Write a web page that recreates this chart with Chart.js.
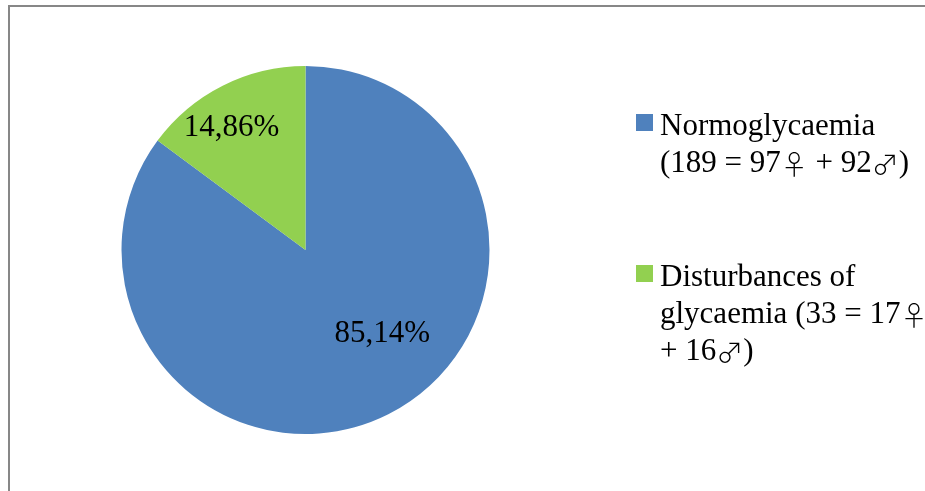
<!DOCTYPE html>
<html>
<head>
<meta charset="utf-8">
<title>Glycaemia</title>
<script src="https://cdn.jsdelivr.net/npm/chart.js@4"></script>
<style>
  html, body { margin: 0; padding: 0; background: #fff; }
  #wrap { position: relative; width: 925px; height: 491px; overflow: hidden; }
</style>
</head>
<body>
<div id="wrap"><canvas id="pie" width="925" height="491"></canvas></div>
<script>
// categories, one entry per slice (legend text broken into its lines)
const categories = ['Normoglycaemia', 'Disturbances of glycaemia']
const legendLines = [
  ['Normoglycaemia', '(189 = 97\u2640 + 92\u2642)'],
  ['Disturbances of', 'glycaemia (33 = 17\u2640', '+ 16\u2642)']
]
// share of patients, %
const shares = [85.14, 14.86]
const colors = ['#4F81BD', '#92D050']

const FONT = '31px "Liberation Serif", "Times New Roman", serif'
// the serif face draws tiny gender signs, so they get a thin full-width font
const SYMBOL_FONT = '300 27px "Noto Sans CJK JP", "DejaVu Sans", sans-serif'

// where the value labels sit inside each slice:
// angle shift from the slice middle (deg) and fraction of the radius
const labelShift = [-16.5, -4]
const labelRadius = [0.61, 0.785]

const fmtPct = v => v.toFixed(2).replace('.', ',') + '%'

// split a line into runs of plain text and gender signs
const toRuns = (text) => text.split(/([\u2640\u2642])/).filter(s => s.length)
  .map(s => ({ text: s, sym: /^[\u2640\u2642]$/.test(s) }))

function drawMixed (ctx, text, x, y) {
  for (const run of toRuns(text)) {
    ctx.font = run.sym ? SYMBOL_FONT : FONT
    ctx.fillText(run.text, x, y + (run.sym ? 3 : 0))
    x += ctx.measureText(run.text).width
  }
}

// gray frame around the plot area (top and left edges are visible)
const framePlugin = {
  id: 'frame',
  beforeDraw (chart) {
    const ctx = chart.ctx
    ctx.save()
    ctx.fillStyle = '#fff'
    ctx.fillRect(0, 0, chart.width, chart.height)
    ctx.fillStyle = '#878787'
    ctx.fillRect(8, 5, 2, chart.height)
    ctx.fillRect(8, 5, chart.width, 2)
    ctx.restore()
  }
}

// percentage text inside the slices
const valueLabels = {
  id: 'valueLabels',
  afterDatasetsDraw (chart) {
    const ctx = chart.ctx
    const meta = chart.getDatasetMeta(0)
    ctx.save()
    ctx.font = FONT
    ctx.fillStyle = '#000'
    ctx.textAlign = 'center'
    ctx.textBaseline = 'middle'
    meta.data.forEach((arc, i) => {
      const { x, y, startAngle, endAngle, outerRadius } = arc.getProps(['x', 'y', 'startAngle', 'endAngle', 'outerRadius'], true)
      const mid = (startAngle + endAngle) / 2 + labelShift[i] * Math.PI / 180
      const r = outerRadius * labelRadius[i]
      ctx.fillText(fmtPct(shares[i]), x + Math.cos(mid) * r, y + Math.sin(mid) * r + 2)
    })
    ctx.restore()
  }
}

// legend on the right, wrapped over several lines
const sideLegend = {
  id: 'sideLegend',
  afterDraw (chart) {
    const ctx = chart.ctx
    const firstBase = [135, 286]
    const lineH = 37
    ctx.save()
    ctx.textAlign = 'left'
    ctx.textBaseline = 'alphabetic'
    legendLines.forEach((lines, i) => {
      const base = firstBase[i]
      ctx.fillStyle = colors[i]
      ctx.fillRect(636, base - 21, 17, 17)
      ctx.fillStyle = '#000'
      lines.forEach((t, k) => drawMixed(ctx, t, 660, base + k * lineH))
    })
    ctx.restore()
  }
}

new Chart(document.getElementById('pie'), {
  type: 'pie',
  data: {
    labels: categories,
    datasets: [{
      data: shares,
      backgroundColor: colors,
      borderWidth: 0,
      hoverOffset: 0
    }]
  },
  options: {
    responsive: false,
    animation: false,
    layout: { padding: { left: 121, right: 435, top: 66, bottom: 57 } },
    plugins: {
      legend: { display: false },
      tooltip: { enabled: false }
    }
  },
  plugins: [framePlugin, valueLabels, sideLegend]
})
</script>
</body>
</html>
